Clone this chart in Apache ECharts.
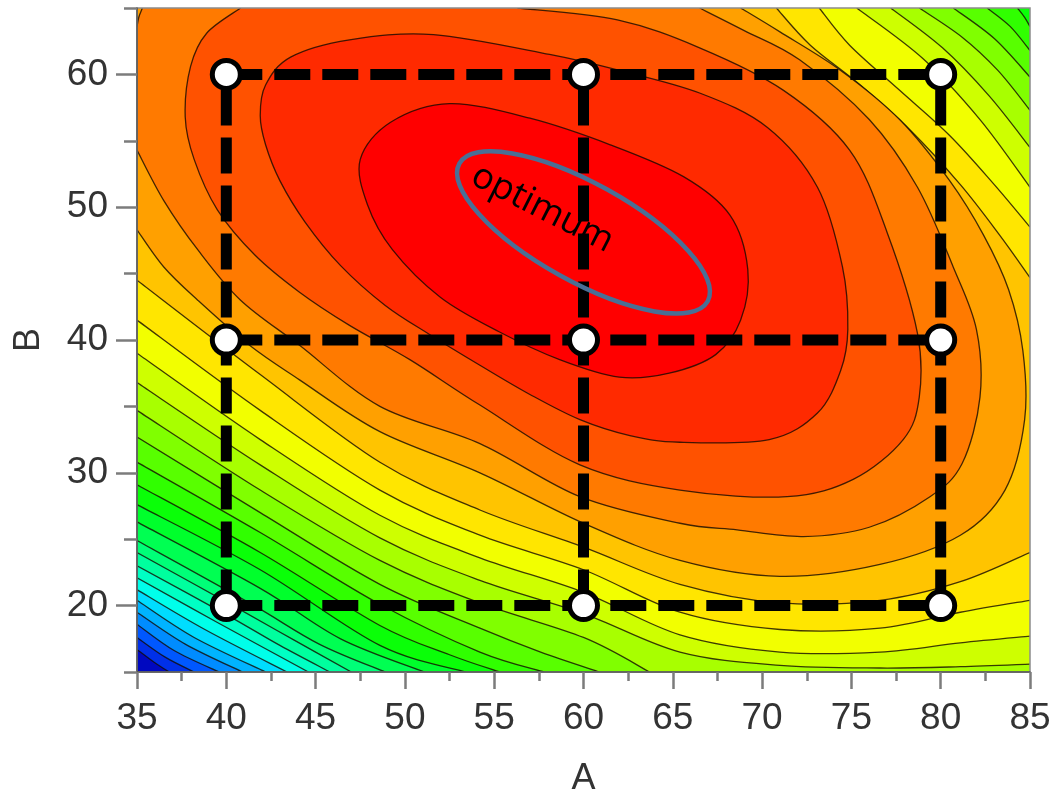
<!DOCTYPE html>
<html>
<head>
<meta charset="utf-8">
<title>Response surface A / B</title>
<script src="https://cdn.jsdelivr.net/npm/echarts@6/dist/echarts.min.js"></script>
<style>
  html, body { margin: 0; padding: 0; background: #fff; }
  #chart { width: 1050px; height: 795px; }
</style>
</head>
<body>
<div id="chart"></div>
<script>
// axis ranges and labelled ticks
const xMin = 35, xMax = 85, yMin = 15, yMax = 65;
const yTickLabels = [20, 30, 40, 50, 60];

// design of experiment: 3 levels of A and B
const designA = [40, 60, 80];
const designB = [20, 40, 60];
const designPoints = [[40, 20], [60, 20], [80, 20], [40, 40], [60, 40], [80, 40], [40, 60], [60, 60], [80, 60]];

// optimum annotation (data units)
const optimumCenter = [60, 48.1];
const optimumLabelAt = [57.7, 49.9];

// contour lines, innermost (highest) first.
// each level = list of pieces, each piece = [A, B] points
const L00 = [[[47.5,53.6],[49.2,56.4],[52.5,57.8],[57.0,56.7],[61.5,54.7],[65.6,52.3],[68.2,49.4],[69.2,45.3],[68.8,41.5],[67.4,38.9],[64.8,37.5],[62.0,37.2],[58.7,38.5],[55.3,40.6],[52.0,43.2],[49.3,46.8],[47.9,50.2]]];
const L01 = [[[51.6,63.0],[46.9,62.6],[43.6,61.3],[42.2,59.2],[41.9,56.9],[42.2,54.7],[43.0,52.0],[44.4,48.9],[46.4,45.6],[48.9,42.6],[51.4,40.4],[54.2,38.1],[57.0,35.9],[59.8,34.0],[62.6,32.8],[65.4,32.3],[70.4,32.5],[73.1,34.5],[74.4,37.7],[74.8,40.8],[74.5,45.5],[73.1,51.5],[70.3,56.0],[66.5,58.6],[62.0,60.3],[58.1,61.5]]];
const L02 = [[[40.8,65],[38.9,63.1],[38.0,60.6],[37.7,56.8],[38.2,53.6],[39.5,49.8],[41.6,46.4],[44.1,43.6],[46.9,41.1],[50.3,38.5],[54.2,35.1],[59.8,30.6],[65.4,28.7],[71.4,28.2],[75.1,29.5],[77.9,32.5],[78.8,35.7],[78.7,40.5],[77.0,48.1],[74.9,54.3],[71.2,58.8],[66.5,62.0],[61.9,64.1],[56.3,65]]];
const L03 = [
  [[35,54.3],[36.5,50.5],[38.4,46.8],[40.8,43.0],[44.1,39.6],[48.6,35.0],[54.2,32.2],[59.8,28.2],[65.4,26.2],[68.6,25.7],[72.3,25.2],[76.0,25.9],[79.4,28.2],[81.2,30.7],[82.2,35.7],[82.0,40.8],[80.7,45.5],[78.7,51.5],[76.0,56.6],[72.1,61.1],[69.0,63.3],[66.5,65]],
  [[35.3,65],[35.1,64.3],[35,63.6]]
];
const L04 = [[[35,48.3],[36.5,45.5],[38.4,43.0],[41.3,39.6],[44.1,37.0],[48.6,33.1],[54.2,30.0],[60.0,26.2],[65.4,23.4],[71.0,22.2],[76.6,23.1],[81.1,25.3],[83.6,28.7],[84.7,34.0],[84.6,39.2],[83.8,43.8],[82.4,47.9],[80.5,52.0],[77.7,56.6],[74.4,60.3],[71.0,63.2],[68.8,65]]];
const L05 = [
  [[35,44.5],[41.9,37.4],[48.6,30.8],[54.2,27.2],[60.0,24.4],[65.4,21.6],[71.0,20.2],[76.6,20.4],[81.1,21.8],[85,24.0]],
  [[85,44.7],[83.3,47.9],[81.1,51.7],[78.3,55.8],[75.5,59.2],[72.7,62.2],[70.8,65]]
];
const L06 = [
  [[35,41.5],[41.9,34.7],[48.6,28.7],[54.2,25.3],[60.0,22.7],[65.4,19.5],[71.0,18.2],[76.6,18.3],[81.1,19.5],[85,20.4]],
  [[85,48.5],[83.0,51.7],[80.5,55.4],[77.7,58.8],[74.9,62.2],[73.2,65]]
];
const L07 = [
  [[35,39.0],[41.9,32.5],[48.6,26.8],[54.2,23.6],[60.0,21.0],[65.4,17.8],[71.0,16.5],[76.6,16.5],[81.1,17.2],[85,17.7]],
  [[85,51.5],[82.2,56.6],[79.0,61.2],[75.3,65]]
];
const L08 = [
  [[35,36.8],[41.9,30.6],[48.6,25.1],[54.2,21.9],[60.0,19.4],[65.4,16.5],[71.0,15.5],[76.6,15.3],[81.1,15.4],[85,15.6]],
  [[85,54.5],[82.7,58.4],[80.1,62.0],[77.2,65]]
];
const L09 = [
  [[35,34.7],[41.9,28.7],[48.6,23.4],[54.2,20.2],[60.0,17.6],[63.7,15]],
  [[85,57.3],[83.2,60.3],[81.2,62.8],[78.8,65]]
];
const L10 = [
  [[35,32.7],[41.9,27.0],[48.6,21.6],[54.2,18.3],[57.6,16.5],[60.9,15]],
  [[85,59.8],[83.0,62.7],[80.7,65]]
];
const L11 = [
  [[35,30.8],[41.9,25.5],[48.6,20.1],[54.2,16.5],[57.8,15]],
  [[85,61.8],[83.9,63.6],[82.6,65]]
];
const L12 = [
  [[35,29.1],[41.9,24.0],[48.6,18.5],[52.5,16.3],[55.3,15]],
  [[85,63.6],[84.7,64.3],[84.3,65]]
];
const L13 = [[[35,27.6],[41.9,22.7],[48.6,17.0],[53.4,15]]];
const L14 = [[[35,26.3],[41.9,21.3],[46.4,17.5],[51.1,15]]];
const L15 = [[[35,24.9],[41.3,20.2],[45.2,17.1],[48.9,15]]];
const L16 = [[[35,24.0],[40.5,19.9],[43.8,17.4],[47.0,15]]];
const L17 = [[[35,23.0],[39.9,19.4],[43.0,17.0],[45.8,15]]];
const L18 = [[[35,22.1],[39.4,18.8],[44.6,15]]];
const L19 = [[[35,21.2],[38.8,18.2],[43.4,15]]];
const L20 = [[[35,20.4],[38.2,17.6],[42.2,15]]];
const L21 = [[[35,19.5],[37.7,17.1],[40.9,15]]];
const L22 = [[[35,18.6],[37.1,16.6],[39.6,15]]];
const L23 = [[[35,17.6],[36.6,16.1],[38.2,15]]];
const L24 = [[[35,16.7],[36.0,15.7],[36.8,15]]];

const contourLevels = [L00, L01, L02, L03, L04, L05, L06, L07, L08, L09, L10, L11, L12,
  L13, L14, L15, L16, L17, L18, L19, L20, L21, L22, L23, L24];

// fill colour of each band, band k lies inside level k (last one = below every line)
const bandColors = ['#ff0000','#ff2a00','#ff5200','#ff7a00','#ffa000','#ffc400','#ffe600',
  '#f2ff00','#ceff00','#a8ff00','#80ff00','#58ff00','#30ff00','#0aff08','#00ff2c','#00ff52',
  '#00ff78','#00ff9e','#00ffc4','#00ffea','#00ddff','#00b4ff','#008cff','#0058ff','#0030e8','#0008c0'];

// draw from the outside in: background first, then each level on top
const drawOrder = [];
for (let k = contourLevels.length; k >= 0; k--) drawOrder.push(k);

function onEdge(p) {
  return Math.abs(p[0] - xMin) < 0.01 || Math.abs(p[0] - xMax) < 0.01 ||
         Math.abs(p[1] - yMin) < 0.01 || Math.abs(p[1] - yMax) < 0.01;
}

// position along the plot border, counter-clockwise from the lower-left corner
function perim(p) {
  const w = xMax - xMin, h = yMax - yMin;
  const d = [Math.abs(p[1] - yMin), Math.abs(p[0] - xMax), Math.abs(p[1] - yMax), Math.abs(p[0] - xMin)];
  const e = d.indexOf(Math.min.apply(null, d));
  if (e === 0) return p[0] - xMin;
  if (e === 1) return w + (p[1] - yMin);
  if (e === 2) return w + h + (xMax - p[0]);
  return 2 * w + h + (yMax - p[1]);
}

function cornersBetween(a, b) {
  const w = xMax - xMin, h = yMax - yMin, P = 2 * (w + h);
  const cs = [[w, [xMax, yMin]], [w + h, [xMax, yMax]], [2 * w + h, [xMin, yMax]], [P, [xMin, yMin]]];
  const s1 = perim(a);
  let s2 = perim(b);
  if (s2 <= s1) s2 += P;
  const out = [];
  [0, P].forEach(function (off) {
    cs.forEach(function (c) {
      const s = c[0] + off;
      if (s > s1 && s < s2) out.push({ s: s, c: c[1] });
    });
  });
  out.sort(function (u, v) { return u.s - v.s; });
  return out.map(function (o) { return o.c; });
}

function f(n) { return n.toFixed(2); }

// smooth curve through pixel points (catmull-rom as cubic beziers)
function curve(pts, closed) {
  const n = pts.length;
  const get = function (i) {
    return closed ? pts[(i + n) % n] : pts[Math.max(0, Math.min(n - 1, i))];
  };
  let d = '';
  const segs = closed ? n : n - 1;
  for (let i = 0; i < segs; i++) {
    const p0 = get(i - 1), p1 = get(i), p2 = get(i + 1), p3 = get(i + 2);
    const c1 = [p1[0] + (p2[0] - p0[0]) / 6, p1[1] + (p2[1] - p0[1]) / 6];
    const c2 = [p2[0] - (p3[0] - p1[0]) / 6, p2[1] - (p3[1] - p1[1]) / 6];
    d += ' C' + f(c1[0]) + ',' + f(c1[1]) + ' ' + f(c2[0]) + ',' + f(c2[1]) + ' ' + f(p2[0]) + ',' + f(p2[1]);
  }
  return d;
}

function renderBand(params, api) {
  const k = drawOrder[params.dataIndex];
  const cs = params.coordSys;
  const color = bandColors[k];
  if (k === contourLevels.length) {
    return { type: 'rect', shape: { x: cs.x, y: cs.y, width: cs.width, height: cs.height }, style: { fill: color } };
  }
  const pieces = contourLevels[k];
  let fill = '';
  const strokes = [];
  pieces.forEach(function (pc, i) {
    const pts = pc.map(function (p) { return api.coord(p); });
    const closed = !onEdge(pc[0]) && !onEdge(pc[pc.length - 1]);
    const head = f(pts[0][0]) + ',' + f(pts[0][1]);
    const body = curve(pts, closed);
    fill += (i === 0 ? 'M' : ' L') + head + body;
    strokes.push('M' + head + body + (closed ? ' Z' : ''));
    if (!closed) {
      const next = pieces[(i + 1) % pieces.length];
      cornersBetween(pc[pc.length - 1], next[0]).forEach(function (c) {
        const q = api.coord(c);
        fill += ' L' + f(q[0]) + ',' + f(q[1]);
      });
    }
  });
  fill += ' Z';
  const children = [{ type: 'path', shape: { pathData: fill }, style: { fill: color, stroke: null } }];
  strokes.forEach(function (d) {
    children.push({ type: 'path', shape: { pathData: d },
      style: { fill: null, stroke: 'rgba(20,10,0,0.8)', lineWidth: 1.3 } });
  });
  return { type: 'group', children: children };
}

function renderOptimum(params, api) {
  const c = api.coord(optimumCenter);
  const t = api.coord(optimumLabelAt);
  return {
    type: 'group',
    children: [
      { type: 'ellipse', x: c[0], y: c[1], rotation: -29 * Math.PI / 180,
        shape: { cx: 0, cy: 0, rx: 142, ry: 49 },
        style: { fill: null, stroke: '#4a6f95', lineWidth: 4.5 } },
      { type: 'text', x: t[0], y: t[1], rotation: -27 * Math.PI / 180,
        style: { text: 'optimum', fill: '#000', fontSize: 36, fontFamily: 'Open Sans',
          align: 'center', verticalAlign: 'middle' } }
    ]
  };
}

// dashed lines joining the design points
const gridLines = [];
designB.forEach(function (b) { gridLines.push([[designA[0], b], [designA[designA.length - 1], b]]); });
designA.forEach(function (a) { gridLines.push([[a, designB[0]], [a, designB[designB.length - 1]]]); });

const tickStyle = { color: '#7c7c7c', width: 2.5 };
const labelFont = { fontSize: 37, color: '#333', fontFamily: 'Liberation Sans' };

const chart = echarts.init(document.getElementById('chart'));

const option = {
  animation: false,
  textStyle: { fontFamily: 'Liberation Sans' },
  grid: {
    left: 137, top: 8, width: 893, height: 664,
    outerBoundsMode: 'none', containLabel: false,
    show: true, borderColor: '#8c8c8c', borderWidth: 1.5, backgroundColor: 'transparent', z: 6
  },
  xAxis: {
    type: 'value', min: xMin, max: xMax, interval: 5, z: 6,
    name: 'A', nameLocation: 'middle', nameGap: 89,
    nameTextStyle: { fontSize: 36, color: '#333', fontFamily: 'Liberation Sans' },
    axisLine: { show: true, lineStyle: { color: '#555', width: 1.5 } },
    axisTick: { show: true, length: 17, lineStyle: tickStyle },
    minorTick: { show: true, splitNumber: 2, length: 9, lineStyle: tickStyle },
    axisLabel: Object.assign({ margin: 28 }, labelFont),
    splitLine: { show: false }
  },
  yAxis: [
    {
      type: 'value', min: yMin, max: yMax, interval: 5, position: 'left', z: 6,
      axisLine: { show: true, lineStyle: { color: '#555', width: 1.5 } },
      axisTick: { show: true, length: 13, lineStyle: tickStyle },
      axisLabel: { show: false },
      splitLine: { show: false }
    },
    {
      type: 'value', min: yMin, max: yMax, interval: 5, position: 'left', z: 6,
      name: 'B', nameLocation: 'middle', nameGap: 90,
      nameTextStyle: { fontSize: 36, color: '#333', fontFamily: 'Liberation Sans' },
      axisLine: { show: false },
      axisTick: { show: true, length: 21, customValues: yTickLabels, lineStyle: tickStyle },
      axisLabel: Object.assign({ margin: 29, customValues: yTickLabels }, labelFont),
      splitLine: { show: false }
    }
  ],
  series: [
    {
      type: 'custom', name: 'response', coordinateSystem: 'cartesian2d',
      clip: true, silent: true, z: 1,
      renderItem: renderBand,
      data: drawOrder.map(function () { return [xMin, yMin]; })
    }
  ].concat(gridLines.map(function (seg) {
    return {
      type: 'line', data: seg, symbol: 'none', silent: true, z: 3,
      lineStyle: { color: '#000', width: 11, type: [36, 12] }
    };
  })).concat([
    {
      type: 'scatter', name: 'design', data: designPoints, symbolSize: 28, z: 4, silent: true,
      itemStyle: { color: '#fff', borderColor: '#000', borderWidth: 5, opacity: 1 }
    },
    {
      type: 'custom', name: 'optimum', coordinateSystem: 'cartesian2d', silent: true, z: 5,
      renderItem: renderOptimum,
      data: [optimumCenter]
    }
  ])
};

chart.setOption(option);
</script>
</body>
</html>
